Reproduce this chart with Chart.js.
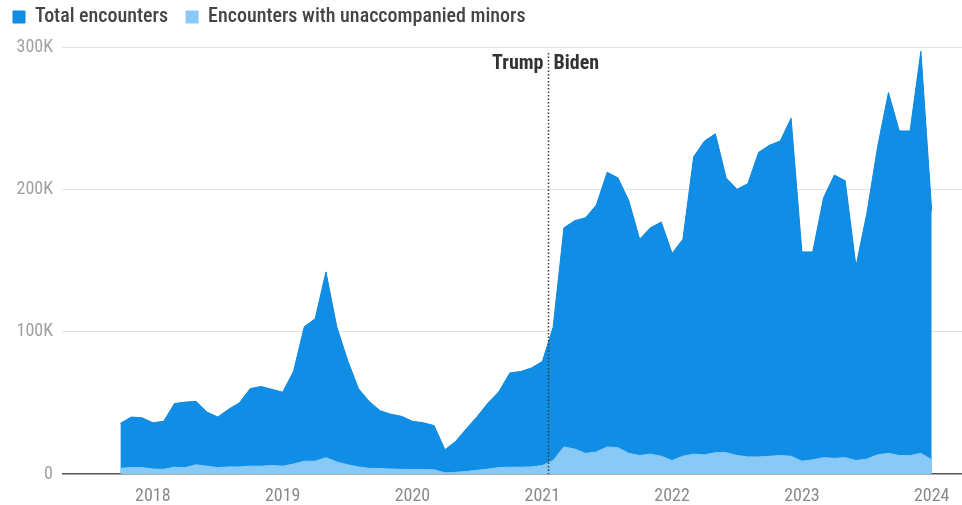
<!DOCTYPE html>
<html lang="en">
  <head>
    <meta charset="UTF-8" />
    <title>Border encounters by month</title>
    <script src="https://cdn.jsdelivr.net/npm/chart.js"></script>
    <style>
      body {
        margin: 0;
        background: #ffffff;
      }
      .wrap {
        width: 962px;
        height: 505px;
        position: relative;
      }
    </style>
  </head>
  <body>
    <div class="wrap"><canvas id="chart"></canvas></div>

    <script>
      // monthly data, values in thousands
      const months = [
        "2017-10", "2017-11", "2017-12",
        "2018-01", "2018-02", "2018-03", "2018-04", "2018-05", "2018-06",
        "2018-07", "2018-08", "2018-09", "2018-10", "2018-11", "2018-12",
        "2019-01", "2019-02", "2019-03", "2019-04", "2019-05", "2019-06",
        "2019-07", "2019-08", "2019-09", "2019-10", "2019-11", "2019-12",
        "2020-01", "2020-02", "2020-03", "2020-04", "2020-05", "2020-06",
        "2020-07", "2020-08", "2020-09", "2020-10", "2020-11", "2020-12",
        "2021-01", "2021-02", "2021-03", "2021-04", "2021-05", "2021-06",
        "2021-07", "2021-08", "2021-09", "2021-10", "2021-11", "2021-12",
        "2022-01", "2022-02", "2022-03", "2022-04", "2022-05", "2022-06",
        "2022-07", "2022-08", "2022-09", "2022-10", "2022-11", "2022-12",
        "2023-01", "2023-02", "2023-03", "2023-04", "2023-05", "2023-06",
        "2023-07", "2023-08", "2023-09", "2023-10", "2023-11", "2023-12",
        "2024-01",
      ];
      const totalEncounters = [
        35.6, 40, 39.5,
        36, 37, 49.5, 50.5, 51, 43.5, 40, 45.5, 50, 60, 61.5, 59.5,
        57.5, 72, 103.5, 109, 142, 103.5, 80, 60, 51, 44.5, 42, 40.5,
        37, 36, 34, 17, 23, 32, 40.5, 50, 58, 71, 72, 74.5,
        79, 103, 173, 178, 180, 189, 212, 208, 192, 165, 173, 177,
        155, 165, 223, 234, 239, 208, 200, 204, 226, 231, 234, 250,
        156, 156, 194, 210, 206, 146, 183, 230, 268, 241, 241, 297,
        185,
      ];
      const minorEncounters = [
        4, 4.5, 4.5,
        3.5, 3.3, 4.8, 4.5, 6.5, 5.5, 4.5, 5, 5, 5.5, 5.5, 6,
        5.5, 7, 9, 9, 11.5, 8.5, 6.5, 5, 4, 3.8, 3.5, 3.3,
        3.2, 3.2, 3, 0.8, 1.2, 1.8, 2.7, 3.5, 4.5, 4.8, 4.8, 5,
        6, 9.5, 19, 17.5, 14.5, 15.5, 19, 18.5, 14.5, 13, 14, 12.5,
        9.5, 12.5, 14, 13.5, 15, 15, 13, 12, 12, 12.5, 13, 12.5,
        9, 10, 11.5, 11, 11.5, 9.5, 10.5, 13.5, 14.5, 13, 13, 14.5,
        10,
      ];
      const yearTicks = [2018, 2019, 2020, 2021, 2022, 2023, 2024];
      const valueTicks = [0, 100, 200, 300];
      const handoverDate = "2021-01-20";

      const FONT = "'Roboto Condensed', 'Open Sans', sans-serif";
      const LEGEND_HEIGHT = 58;

      // months counted from Jan 2018
      function monthIndex(s) {
        const [y, m, d] = s.split("-").map(Number);
        return (y - 2018) * 12 + (m - 1) + (d ? (d - 1) / 31 : 0);
      }

      const totalPoints = months.map((m, i) => ({ x: monthIndex(m), y: totalEncounters[i] }));
      const minorPoints = months.map((m, i) => ({ x: monthIndex(m), y: minorEncounters[i] }));

      // give the legend a fixed height so the plot starts lower
      const legendSpace = {
        id: "legendSpace",
        beforeLayout(chart) {
          const lg = chart.legend;
          if (!lg || lg._fixed) return;
          const fit = lg.fit;
          lg.fit = function () {
            fit.call(this);
            this.height = LEGEND_HEIGHT;
          };
          lg._fixed = true;
        },
      };

      // dotted Trump | Biden divider
      const handoverLine = {
        id: "handover",
        afterDatasetsDraw(chart) {
          const { ctx, chartArea, scales } = chart;
          const px = Math.round(scales.x.getPixelForValue(monthIndex(handoverDate))) - 0.5;
          ctx.save();
          ctx.strokeStyle = "#3a3a3a";
          ctx.lineWidth = 1.5;
          ctx.setLineDash([1.5, 2]);
          ctx.beginPath();
          ctx.moveTo(px, chartArea.top + 6);
          ctx.lineTo(px, chartArea.bottom);
          ctx.stroke();
          ctx.font = "bold 20px " + FONT;
          ctx.fillStyle = "#333";
          ctx.textBaseline = "middle";
          ctx.textAlign = "right";
          ctx.fillText("Trump", px - 5, chartArea.top + 17);
          ctx.textAlign = "left";
          ctx.fillText("Biden", px + 5, chartArea.top + 17);
          ctx.restore();
        },
      };

      new Chart(document.getElementById("chart"), {
        type: "line",
        data: {
          datasets: [
            {
              label: "Total encounters",
              data: totalPoints,
              backgroundColor: "#108de5",
              borderColor: "#0e87dc",
              borderWidth: 1,
              pointRadius: 0,
              fill: "origin",
              tension: 0,
              order: 2,
            },
            {
              label: "Encounters with unaccompanied minors",
              data: minorPoints,
              backgroundColor: "#88c9f5",
              borderColor: "#88c9f5",
              borderWidth: 1,
              pointRadius: 0,
              fill: "origin",
              tension: 0,
              order: 1,
            },
          ],
        },
        options: {
          responsive: true,
          maintainAspectRatio: false,
          animation: false,
          layout: { padding: { top: -11, right: 0, bottom: 0, left: -5 } },
          plugins: {
            legend: {
              position: "top",
              align: "start",
              labels: {
                boxWidth: 12,
                boxHeight: 12,
                padding: 18,
                color: "#444",
                font: { family: FONT, size: 20, weight: "500", lineHeight: 1 },
                sort: (a, b) => a.datasetIndex - b.datasetIndex,
              },
            },
            tooltip: { enabled: false },
          },
          scales: {
            x: {
              type: "linear",
              min: -8.4,
              max: 74.8,
              afterBuildTicks: (s) => {
                s.ticks = yearTicks.map((y) => ({ value: (y - 2018) * 12 }));
              },
              afterFit: (s) => {
                s.height = 31;
              },
              ticks: {
                autoSkip: false,
                maxRotation: 0,
                padding: 12,
                color: "#8a8a8a",
                font: { family: FONT, size: 18 },
                callback: (v) => String(2018 + v / 12),
              },
              grid: { display: false, drawTicks: false },
              border: { display: false },
            },
            y: {
              min: 0,
              max: 300,
              afterBuildTicks: (s) => {
                s.ticks = valueTicks.map((v) => ({ value: v }));
              },
              afterFit: (s) => {
                s.width = 67;
              },
              ticks: {
                padding: 9,
                color: "#a0a0a0",
                font: { family: FONT, size: 18 },
                callback: (v) => (v === 0 ? "0" : v + "K"),
              },
              grid: {
                drawTicks: false,
                color: (c) => (c.tick && c.tick.value === 0 ? "#555" : "#e2e2e2"),
                lineWidth: (c) => (c.tick && c.tick.value === 0 ? 1.5 : 1),
              },
              border: { display: false },
            },
          },
        },
        plugins: [legendSpace, handoverLine],
      });
    </script>
  </body>
</html>
